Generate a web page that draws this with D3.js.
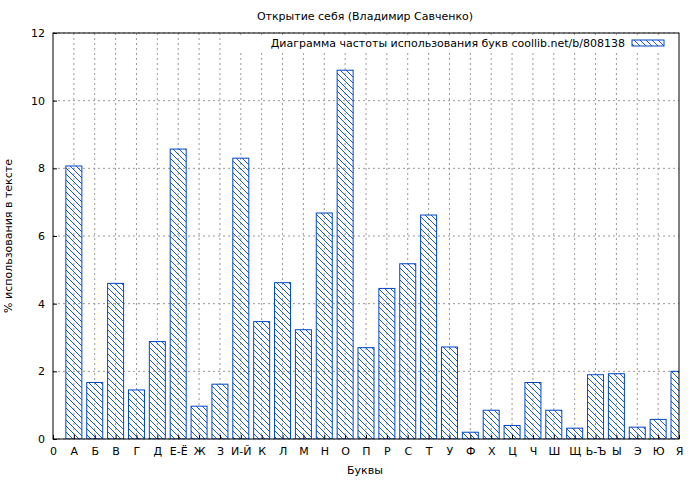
<!DOCTYPE html><html><head><meta charset="utf-8"><script src="https://cdn.jsdelivr.net/npm/d3@7"></script>
<style>body{margin:0;background:#fff}text{font-family:"DejaVu Sans",sans-serif;font-size:11px}</style></head><body><svg id="c" width="700" height="480"></svg>
<script>
const tickLabels=["0","А","Б","В","Г","Д","Е-Ё","Ж","З","И-Й","К","Л","М","Н","О","П","Р","С","Т","У","Ф","Х","Ц","Ч","Ш","Щ","Ь-Ъ","Ы","Э","Ю","Я"];
const values=[8.07,1.67,4.6,1.45,2.88,8.57,0.97,1.62,8.3,3.47,4.62,3.23,6.68,10.9,2.7,4.45,5.18,6.62,2.72,0.2,0.85,0.4,1.67,0.85,0.32,1.9,1.93,0.35,0.58,2.0];
const yTicks=[0,2,4,6,8,10,12];
const L=53,R=679,T=33,B=439,col="#0047c8";
const svg=d3.select("#c");
const x=d3.scaleLinear().domain([0,30]).range([L,R]);
const y=d3.scaleLinear().domain([0,12]).range([B,T]);
const defs=svg.append("defs");
const p=defs.append("pattern").attr("id","h").attr("patternUnits","userSpaceOnUse").attr("width",6).attr("height",6);
p.append("path").attr("d","M-1,-1L7,7M-4,2L2,8M4,-2L8,2").attr("stroke",col).attr("stroke-width",0.9);
defs.append("clipPath").attr("id","cl").append("rect").attr("x",L).attr("y",T).attr("width",R-L).attr("height",B-T);
const g=svg.append("g");
yTicks.forEach(t=>g.append("line").attr("x1",L).attr("x2",R).attr("y1",y(t)).attr("y2",y(t)).attr("stroke","#999").attr("stroke-dasharray","2,3"));
d3.range(1,30).forEach(i=>g.append("line").attr("x1",x(i)).attr("x2",x(i)).attr("y1",T).attr("y2",B).attr("stroke","#999").attr("stroke-dasharray","2,3"));
const bw=16;
svg.append("g").attr("clip-path","url(#cl)").selectAll("rect").data(values).join("rect")
.attr("x",(d,i)=>x(i+1)-bw/2).attr("width",bw).attr("y",d=>y(d)).attr("height",d=>B-y(d))
.attr("fill","url(#h)").attr("stroke",col).attr("stroke-width",1);
svg.append("rect").attr("x",L).attr("y",T).attr("width",R-L).attr("height",B-T).attr("fill","none").attr("stroke","#000");
const ya=svg.append("g").attr("transform",`translate(${L},0)`).call(d3.axisLeft(y).tickValues(yTicks).tickSize(-4).tickPadding(8).tickFormat(d3.format("d")));
ya.select(".domain").remove();
const xa=svg.append("g").attr("transform",`translate(0,${B})`).call(d3.axisBottom(x).tickValues(d3.range(0,31)).tickSize(-4).tickPadding(8).tickFormat(i=>tickLabels[i]));
xa.select(".domain").remove();
svg.selectAll(".tick text").style("font-size","11px").attr("fill","#000");
svg.append("text").attr("x",365).attr("y",20).attr("text-anchor","middle").text("Открытие себя (Владимир Савченко)");
svg.append("text").attr("x",365).attr("y",474).attr("text-anchor","middle").text("Буквы");
svg.append("text").attr("transform","translate(12,236) rotate(-90)").attr("text-anchor","middle").text("% использования в тексте");
svg.append("rect").attr("x",240).attr("y",36).attr("width",432).attr("height",14).attr("fill","#fff");
svg.append("text").attr("x",625).attr("y",47).attr("text-anchor","end").text("Диаграмма частоты использования букв coollib.net/b/808138");
svg.append("rect").attr("x",632).attr("y",40).attr("width",32).attr("height",6).attr("fill","url(#h)").attr("stroke",col);
</script></body></html>
